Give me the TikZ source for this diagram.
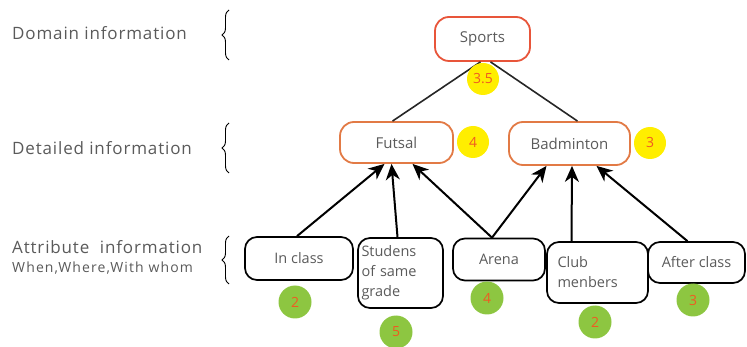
\documentclass[tikz,border=0pt]{standalone}
\usepackage{fontspec}
\setmainfont{Open Sans}
\newfontfamily\wideopen[LetterSpace=5]{Open Sans}
\newfontfamily\wideopenb[LetterSpace=8]{Open Sans}
\usetikzlibrary{arrows.meta,decorations.pathreplacing}
\definecolor{txtgray}{HTML}{5A5A5A}
\definecolor{redor}{HTML}{E8553A}
\definecolor{orbox}{HTML}{E27A45}
\definecolor{yel}{HTML}{FFEE00}
\definecolor{grn}{HTML}{8DC641}
\definecolor{numor}{HTML}{F05A22}
\tikzset{
  lbl/.style={anchor=west,text=txtgray,font=\wideopen\fontsize{17}{18}\selectfont,inner sep=0},
  topbox/.style={draw=redor,line width=1.8pt,rounded corners=14pt,text=txtgray,font=\fontsize{15}{17}\selectfont},
  midbox/.style={draw=orbox,line width=1.8pt,rounded corners=14pt,text=txtgray,font=\fontsize{15}{17}\selectfont},
  attbox/.style={draw=black,line width=1.7pt,rounded corners=12pt,text=txtgray,font=\fontsize{14.5}{20}\selectfont},
  ycirc/.style={circle,fill=yel,minimum size=32pt,inner sep=0,text=numor,font=\fontsize{14}{15}\selectfont},
  gcirc/.style={circle,fill=grn,minimum size=33pt,inner sep=0,text=numor,font=\fontsize{14}{15}\selectfont},
  conn/.style={line width=1.6pt,black!85},
  arr/.style={line width=2pt,black,-{Stealth[length=16pt,width=14pt,inset=5pt]}},
  brc/.style={decorate,decoration={brace,amplitude=7pt},line width=0.9pt,black},
}
\begin{document}
\begin{tikzpicture}[x=1pt,y=-1pt]
\useasboundingbox (0,0) rectangle (747,347);
% left labels
\node[lbl] (ldom) at (12,33) {Domain information};
\node[lbl] (ldet) at (12,148) {Detailed information};
\node[lbl] (latt) at (12,247) {Attribute \ information};
\node[lbl,font=\wideopenb\fontsize{14}{15}\selectfont] (lwhen) at (12,268) {When,Where,With whom};
% braces
\coordinate (b1a) at (229,60); \coordinate (b1b) at (229,10);
\coordinate (b2a) at (229,173); \coordinate (b2b) at (229,123);
\coordinate (b3a) at (229,284); \coordinate (b3b) at (229,236);
\draw[brc] (b1a) -- (b1b);
\draw[brc] (b2a) -- (b2b);
\draw[brc] (b3a) -- (b3b);
% nodes
\node[topbox,minimum width=95pt,minimum height=44pt] (sports) at (482.5,39) {Sports};
\node[midbox,minimum width=113pt,minimum height=41pt] (futsal) at (396.5,142.5) {Futsal};
\node[midbox,minimum width=121pt,minimum height=43pt] (badm) at (569.5,143.5) {Badminton};
\node[attbox,minimum width=108pt,minimum height=43pt] (incl) at (299,258.5) {In class};
\node[attbox,minimum width=85pt,minimum height=70pt,text width=78pt,align=left,inner sep=2pt] (stud) at (400.5,273) {Studens\\of same\\grade};
\node[attbox,minimum width=92pt,minimum height=42pt] (arena) at (499,259.5) {Arena};
\node[attbox,minimum width=101pt,minimum height=61pt,text width=80pt,align=left,inner sep=3pt] (club) at (597.5,272.5) {Club\\menbers};
\node[attbox,minimum width=97pt,minimum height=41pt,inner sep=1pt] (after) at (696.5,262.5) {After class};
% connectors top
\draw[conn] ([xshift=-2pt]sports.south) -- ([xshift=-4pt]futsal.north);
\draw[conn] ([xshift=8pt]sports.south) -- ([xshift=8pt]badm.north);
% arrows
\draw[arr] ([xshift=-2pt]incl.north) -- ([xshift=-12pt]futsal.south);
\draw[arr] ([xshift=-3pt]stud.north) -- ([xshift=-5pt]futsal.south);
\draw[arr] ([xshift=-7pt]arena.north) -- ([xshift=16pt]futsal.south);
\draw[arr] ([xshift=-7pt]arena.north) -- ([xshift=-23pt]badm.south);
\draw[arr] ([xshift=-26pt]club.north) -- ([xshift=2.5pt]badm.south);
\draw[arr] ([xshift=-9pt]after.north) -- ([xshift=27pt]badm.south);
% scores
\node[ycirc] (s35) at (483,79) {3.5};
\node[ycirc] (s4) at (473,142) {4};
\node[ycirc] (s3) at (650,143) {3};
\node[gcirc] (g2a) at (295,302) {2};
\node[gcirc] (g5) at (396,332) {5};
\node[gcirc] (g4) at (487,298) {4};
\node[gcirc] (g2b) at (595,322) {2};
\node[gcirc] (g3) at (693,300) {3};
\end{tikzpicture}
\end{document}
